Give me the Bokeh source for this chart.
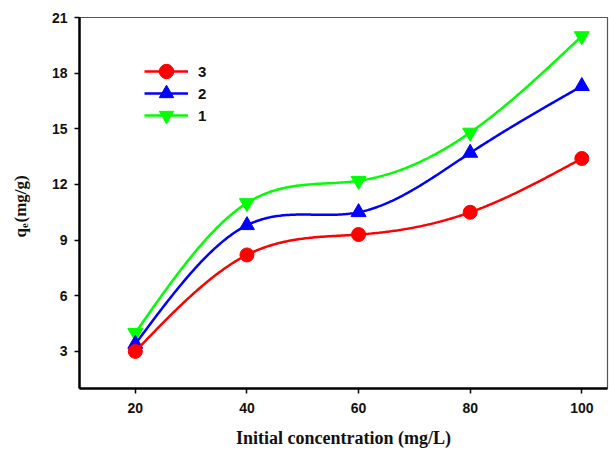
import numpy as np
from bokeh.plotting import figure
from bokeh.models import Range1d, Label, Legend, LegendItem, FixedTicker
from bokeh.embed import file_html
from bokeh.resources import INLINE

# ---- data ----
concentration = [20, 40, 60, 80, 100]
series_3 = [3.0, 8.2, 9.3, 10.5, 13.4]
series_2 = [3.4, 9.8, 10.5, 13.7, 17.3]
series_1 = [4.0, 11.0, 12.2, 14.8, 20.0]
legend_labels = ["3", "2", "1"]
x_ticks = [20, 40, 60, 80, 100]
y_ticks = [3, 6, 9, 12, 15, 18, 21]
x_label = "Initial concentration (mg/L)"
y_label_main = "q"
y_label_sub = "e"
y_label_rest = "(mg/g)"


def natural_spline(xs, ys, n=300):
    """Smooth curve through the points (natural cubic spline), as the source plot draws."""
    x = np.asarray(xs, float)
    y = np.asarray(ys, float)
    k = len(x)
    h = np.diff(x)
    A = np.zeros((k, k))
    b = np.zeros(k)
    A[0, 0] = 1.0
    A[-1, -1] = 1.0
    for i in range(1, k - 1):
        A[i, i - 1] = h[i - 1]
        A[i, i] = 2 * (h[i - 1] + h[i])
        A[i, i + 1] = h[i]
        b[i] = 6 * ((y[i + 1] - y[i]) / h[i] - (y[i] - y[i - 1]) / h[i - 1])
    M = np.linalg.solve(A, b)
    xx = np.linspace(x[0], x[-1], n)
    idx = np.clip(np.searchsorted(x, xx) - 1, 0, k - 2)
    x0, x1 = x[idx], x[idx + 1]
    hh = x1 - x0
    t0 = x1 - xx
    t1 = xx - x0
    yy = (M[idx] * t0 ** 3 / (6 * hh) + M[idx + 1] * t1 ** 3 / (6 * hh)
          + (y[idx] / hh - M[idx] * hh / 6) * t0
          + (y[idx + 1] / hh - M[idx + 1] * hh / 6) * t1)
    return xx, yy


p = figure(width=609, height=451, output_backend="svg", toolbar_location=None,
           x_range=Range1d(10, 104.6), y_range=Range1d(1, 21),
           min_border_left=79, min_border_right=2, min_border_top=17, min_border_bottom=63)

p.xgrid.visible = False
p.ygrid.visible = False
p.outline_line_color = "#555555"
p.outline_line_width = 1.2
p.background_fill_color = "white"
p.border_fill_color = "white"

tick_font = "Liberation Sans"
for ax in (p.xaxis[0], p.yaxis[0]):
    ax.axis_line_width = 2.5
    ax.axis_line_color = "black"
    ax.major_tick_line_width = 1.5
    ax.major_tick_out = 5
    ax.major_tick_in = 0
    ax.minor_tick_line_color = None
    ax.major_label_text_font = tick_font
    ax.major_label_text_font_style = "bold"
    ax.major_label_text_font_size = "14px"
    ax.major_label_text_color = "#111111"

p.xaxis.ticker = FixedTicker(ticks=x_ticks)
p.yaxis.ticker = FixedTicker(ticks=y_ticks)
p.xaxis.major_label_standoff = 9
p.yaxis.major_label_standoff = 7

p.xaxis.axis_label = x_label
p.xaxis.axis_label_text_font = "Liberation Serif"
p.xaxis.axis_label_text_font_style = "bold"
p.xaxis.axis_label_text_font_size = "18px"
p.xaxis.axis_label_text_color = "#111111"
p.xaxis.axis_label_standoff = 12

series = [
    (series_1, "#00FF00", "inverted_triangle", 15, legend_labels[2]),
    (series_2, "#0000FF", "triangle", 15, legend_labels[1]),
    (series_3, "#FF0000", "circle", 14, legend_labels[0]),
]
items = {}
for ys, color, marker, size, lab in series:
    sx, sy = natural_spline(concentration, ys)
    ln = p.line(sx, sy, line_color=color, line_width=2.5)
    sc = p.scatter(concentration, ys, marker=marker, size=size,
                   fill_color=color, line_color=color)
    items[lab] = [ln, sc]

# one legend box per entry so rows can sit closer than the marker box height
legend_row_y = [299, 277, 255]
for lab, ly in zip(legend_labels, legend_row_y):
    lg = Legend(items=[LegendItem(label=lab, renderers=items[lab])],
                location=(65, ly), orientation="vertical")
    lg.glyph_width = 44
    lg.glyph_height = 36
    lg.padding = 0
    lg.margin = 0
    lg.label_standoff = 10
    lg.label_text_font = tick_font
    lg.label_text_font_style = "bold"
    lg.label_text_font_size = "15px"
    lg.label_text_color = "#111111"
    lg.border_line_color = None
    lg.background_fill_alpha = 0
    p.add_layout(lg, "center")

# y-axis title with subscript: q_e(mg/g), rotated, in the left margin (canvas pixels)
lab_font = "Liberation Serif"
p.add_layout(Label(x=20, y=237, x_units="canvas", y_units="canvas", text=y_label_main,
                   angle=np.pi / 2, text_align="left", text_baseline="middle",
                   text_font=lab_font, text_font_style="bold", text_font_size="17px",
                   text_color="#111111"), "left")
p.add_layout(Label(x=24, y=227.5, x_units="canvas", y_units="canvas", text=y_label_sub,
                   angle=np.pi / 2, text_align="left", text_baseline="middle",
                   text_font=lab_font, text_font_style="bold", text_font_size="11px",
                   text_color="#111111"), "left")
p.add_layout(Label(x=20, y=222, x_units="canvas", y_units="canvas", text=y_label_rest,
                   angle=np.pi / 2, text_align="left", text_baseline="middle",
                   text_font=lab_font, text_font_style="bold", text_font_size="17px",
                   text_color="#111111"), "left")

open("out.html", "w").write(file_html(p, INLINE))
